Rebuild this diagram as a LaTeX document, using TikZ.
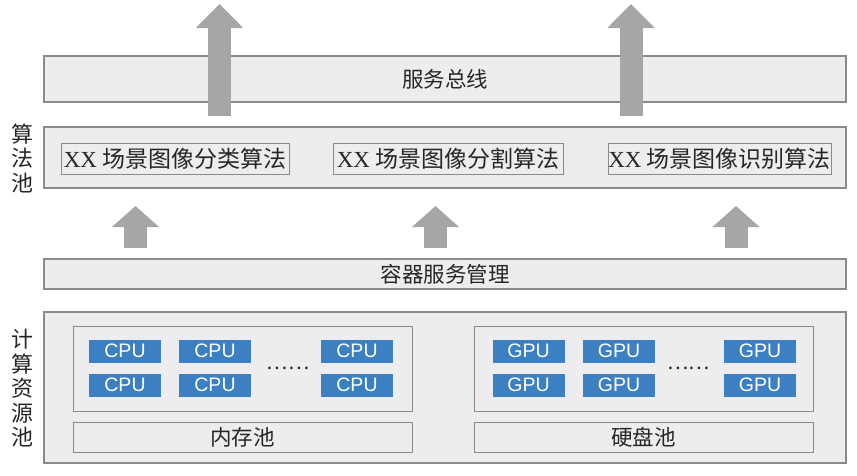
\documentclass[tikz,border=0pt]{standalone}
\usepackage{fontspec}
\newfontfamily\cjk{Noto Sans CJK SC}
\newfontfamily\lat{Liberation Sans}
\newfontfamily\serif{Liberation Serif}
\usetikzlibrary{arrows.meta}
\definecolor{boxfill}{HTML}{EDEDEF}
\definecolor{boxline}{HTML}{8A8A8C}
\definecolor{arrowgray}{HTML}{A6A6A8}
\definecolor{chipblue}{HTML}{3D80C2}
\tikzset{
  layer/.style={draw=boxline, fill=boxfill, line width=1.3pt, inner sep=0pt, text=black!85, font=\cjk\fontsize{21.5}{23}\selectfont},
  algbox/.style={layer, line width=1pt, minimum height=31pt, font=\cjk\fontsize{23}{25}\selectfont},
  chip/.style={fill=chipblue, minimum width=72pt, minimum height=23pt, inner sep=0pt, text=white, font=\lat\fontsize{19.5}{21}\selectfont},
  sidelabel/.style={align=center, text=black!85, font=\cjk\fontsize{22}{24.5}\selectfont},
  bigarrow/.style={draw=arrowgray, line width=23pt, -{Triangle[width=46pt,length=24pt]}},
}

\begin{document}
\begin{tikzpicture}[x=1pt,y=-1pt]
\useasboundingbox (0,0) rectangle (857,475);
% service bus
\node[layer, minimum width=802pt, minimum height=46pt] (bus) at (445,79) {服务总线};
% algorithm pool
\node[layer, minimum width=802pt, minimum height=61pt] (alg) at (445,157.5) {};
\node[algbox, minimum width=228pt] (alg1) at (175,158.5) {{\serif XX} 场景图像分类算法};
\node[algbox, minimum width=230pt] (alg2) at (448,158.5) {{\serif XX} 场景图像分割算法};
\node[algbox, minimum width=223pt] (alg3) at (719.5,158.5) {{\serif XX} 场景图像识别算法};
\node[sidelabel] (algname) at (22,158) {算\\法\\池};
% container management
\node[layer, minimum width=802pt, minimum height=30pt] (ctr) at (445,274) {容器服务管理};
% compute resource pool
\node[layer, minimum width=802pt, minimum height=151pt] (res) at (445,387.5) {};
\node[sidelabel] (resname) at (22,388.5) {计\\算\\资\\源\\池};
\node[layer, line width=1pt, minimum width=339pt, minimum height=85pt] (cpupool) at (242.5,368.5) {};
\node[layer, line width=1pt, minimum width=339pt, minimum height=30pt] (mem) at (242.5,437) {内存池};
\node[layer, line width=1pt, minimum width=339pt, minimum height=85pt] (gpupool) at (643.5,368.5) {};
\node[layer, line width=1pt, minimum width=339pt, minimum height=30pt] (disk) at (643.5,437) {硬盘池};
\foreach \x [count=\i] in {125,215,357} {
  \node[chip] (cpu\i a) at (\x,351) {CPU};
  \node[chip] (cpu\i b) at (\x,385) {CPU};
}
\foreach \x [count=\i] in {528.5,619,760} {
  \node[chip] (gpu\i a) at (\x,351) {GPU};
  \node[chip] (gpu\i b) at (\x,385) {GPU};
}
\node[text=black!85, font=\cjk\fontsize{20}{20}\selectfont] (cpudots) at (288,368) {……};
\node[text=black!85, font=\cjk\fontsize{20}{20}\selectfont] (gpudots) at (688.5,368) {……};
% arrows
\coordinate (up1s) at (219.5,116);
\coordinate (up1e) at (219.5,4);
\coordinate (up2s) at (631,116);
\coordinate (up2e) at (631,4);
\draw[bigarrow] (up1s) -- (up1e);
\draw[bigarrow] (up2s) -- (up2e);
\coordinate (c1s) at (135.5,248);
\coordinate (c1e) at (135.5,206);
\coordinate (c2s) at (435.5,248);
\coordinate (c2e) at (435.5,206);
\coordinate (c3s) at (736,248);
\coordinate (c3e) at (736,206);
\draw[bigarrow, -{Triangle[width=46pt,length=21pt]}] (c1s) -- (c1e);
\draw[bigarrow, -{Triangle[width=46pt,length=21pt]}] (c2s) -- (c2e);
\draw[bigarrow, -{Triangle[width=46pt,length=21pt]}] (c3s) -- (c3e);
\end{tikzpicture}
\end{document}
